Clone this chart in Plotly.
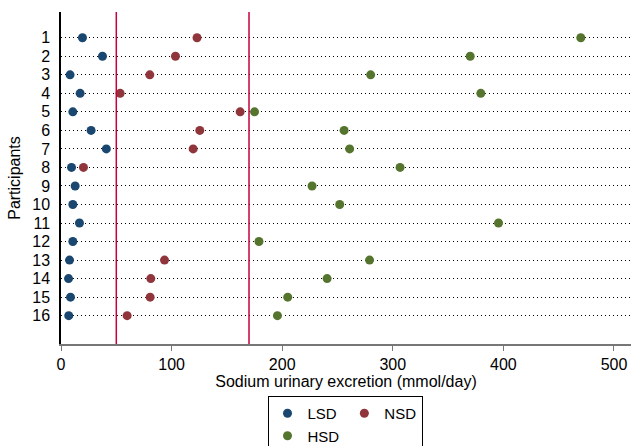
import plotly.graph_objects as go

participants = list(range(1, 17))
lsd = [19.4, 37.5, 8.2, 17.3, 10.7, 27.2, 41, 9.5, 12.8, 10.7, 16.7, 10.7, 7.7, 6.8, 8.6, 7]
nsd = [123, 103.5, 80.3, 53.5, 162, 125.5, 119.5, 20.3, None, None, None, None, 93.6, 81.2, 80.6, 59.8]
hsd = [470, 370, 280, 379.6, 175, 256, 261, 306.6, 227, 252, 395.6, 179, 279, 240.6, 205, 195.7]
reference_lines = [50, 170]
x_ticks = [0, 100, 200, 300, 400, 500]

series = [
    ("LSD", lsd, "#1a476f", "a"),
    ("NSD", nsd, "#90353b", "b"),
    ("HSD", hsd, "#55752f", "a"),
]

fig = go.Figure()
for name, vals, color, grp in series:
    fig.add_trace(go.Scatter(
        x=vals, y=participants, mode="markers", name=name,
        legendgroup=grp,
        marker=dict(color=color, size=9, line=dict(width=0)),
    ))

for xv in reference_lines:
    fig.add_shape(type="line", x0=xv, x1=xv, xref="x", y0=0, y1=1, yref="paper",
                  line=dict(color="#c8003c", width=1.5), layer="above")

FAM = "Liberation Sans, Arial, sans-serif"
font = dict(family=FAM, size=16, color="black")

fig.update_layout(
    width=631, height=446,
    margin=dict(l=61, r=0, t=12, b=102, autoexpand=False),
    paper_bgcolor="white", plot_bgcolor="white",
    font=font,
    showlegend=True,
    legend=dict(
        orientation="h", traceorder="grouped", tracegroupgap=4,
        xref="container", yref="container",
        x=345 / 631, xanchor="center", y=1 - 396 / 446, yanchor="top",
        bordercolor="black", borderwidth=1, bgcolor="white",
        font=dict(family=FAM, size=15, color="black"),
        itemwidth=30,
    ),
    xaxis=dict(
        range=[0, 515.4], tickvals=x_ticks, ticks="outside", ticklen=5,
        tickcolor="#777777", tickwidth=1.2,
        showline=True, linecolor="#777777", linewidth=1.5,
        showgrid=False, zeroline=False,
        title=dict(text="Sodium urinary excretion (mmol/day)", standoff=2, font=font),
        tickfont=font, automargin=False,
    ),
    yaxis=dict(
        range=[17.53, -0.39], tickvals=participants,
        ticktext=[str(p) for p in participants],
        ticks="", ticklabelstandoff=6,
        showline=True, linecolor="black", linewidth=1.5,
        showgrid=True, gridcolor="black", gridwidth=1.2, griddash="1.2px,2.8px",
        zeroline=False,
        title=dict(text="Participants", standoff=8, font=font),
        tickfont=font, automargin=False,
    ),
)

fig.write_html("out.html", config={"displayModeBar": False},
               post_script="document.body.style.margin='0px';")
